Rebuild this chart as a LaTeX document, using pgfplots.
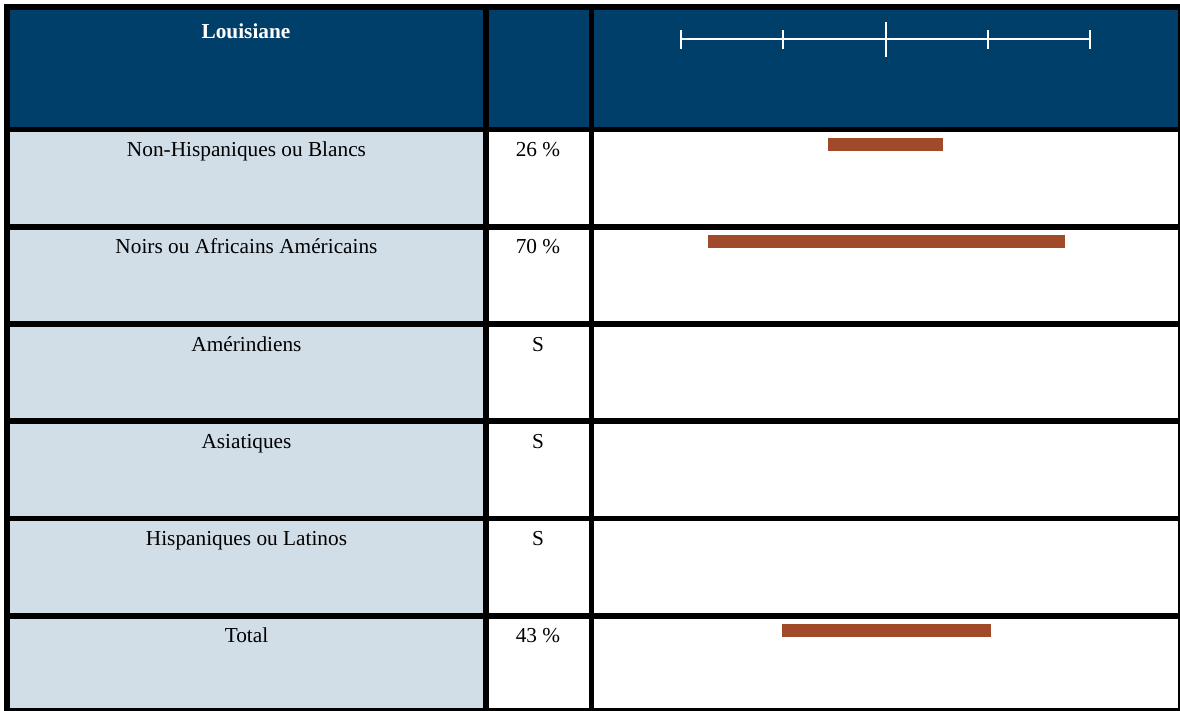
\documentclass[border=0pt]{standalone}
\usepackage{pgfplots}
\pgfplotsset{compat=1.18}
\usepackage{fontspec}
\setmainfont{Liberation Serif}
\definecolor{hdr}{RGB}{0,63,106}
\definecolor{cell}{RGB}{209,222,232}
\definecolor{barc}{RGB}{160,74,42}
\begin{document}
\begin{tikzpicture}[every node/.style={font=\fontsize{10.65}{12.8}\selectfont, inner sep=0pt}]
\begin{axis}[scale only axis, width=590pt, height=355.5pt,
  xmin=0, xmax=1180, ymin=0, ymax=711, y dir=reverse,
  axis lines=none, ticks=none, clip=false]
% background
\fill[white] (0,0) rectangle (1180,711);
% header
\fill[hdr] (6,6) rectangle (1179,130);
% light cells in first column
\fill[cell] (6,130) rectangle (486,710);
% horizontal lines
\fill[black] (3.8,4) rectangle (1180,9.6);
\fill[black] (3.8,126.7) rectangle (1180,132.3);
\fill[black] (3.8,224.3) rectangle (1180,230);
\fill[black] (3.8,321.4) rectangle (1180,327);
\fill[black] (3.8,418.5) rectangle (1180,424.2);
\fill[black] (3.8,515.6) rectangle (1180,521.3);
\fill[black] (3.8,612.7) rectangle (1180,618.7);
\fill[black] (3.8,707.7) rectangle (1180,711);
% vertical lines
\fill[black] (3.8,4) rectangle (9.6,711);
\fill[black] (483.3,4) rectangle (488.9,711);
\fill[black] (589,4) rectangle (594.3,711);
\fill[black] (1178,4) rectangle (1180,711);
% scale in header
\addplot[white, line width=1pt] coordinates {(681,39.3) (1090,39.3)};
\addplot[white, line width=1pt] coordinates {(681,30) (681,49)};
\addplot[white, line width=1pt] coordinates {(783,30) (783,49)};
\addplot[white, line width=1pt] coordinates {(885.5,21.7) (885.5,57.3)};
\addplot[white, line width=1pt] coordinates {(987.5,30) (987.5,49)};
\addplot[white, line width=1pt] coordinates {(1090,30) (1090,49)};
% bars
\addplot[fill=barc, draw=none] coordinates {(828,137.7) (943,137.7) (943,151) (828,151)} --cycle;
\addplot[fill=barc, draw=none] coordinates {(708,235) (1065,235) (1065,247.7) (708,247.7)} --cycle;
\addplot[fill=barc, draw=none] coordinates {(782,624) (991,624) (991,637) (782,637)} --cycle;
% texts
\node[anchor=base, text=white, font=\fontsize{10.65}{12.8}\selectfont\bfseries] at (246,38.3) {Louisiane};
\node[anchor=base] at (246.5,156.7) {Non-Hispaniques ou Blancs};
\node[anchor=base] at (246.5,254) {Noirs ou Africains Américains};
\node[anchor=base] at (246.5,351.2) {Amérindiens};
\node[anchor=base] at (246.5,448.5) {Asiatiques};
\node[anchor=base] at (246.5,545.7) {Hispaniques ou Latinos};
\node[anchor=base] at (246.5,643) {Total};
\node[anchor=base] at (538,156.7) {26 \%};
\node[anchor=base] at (538,254) {70 \%};
\node[anchor=base] at (538,351.2) {S};
\node[anchor=base] at (538,448.5) {S};
\node[anchor=base] at (538,545.7) {S};
\node[anchor=base] at (538,643) {43 \%};
\end{axis}
\end{tikzpicture}
\end{document}
